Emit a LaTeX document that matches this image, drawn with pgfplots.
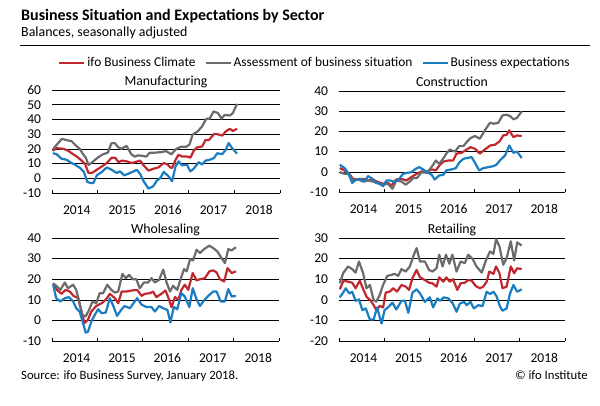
\documentclass[border=0pt]{standalone}
\usepackage{pgfplots}
\pgfplotsset{compat=1.18}
\usepackage{fontspec}
\setmainfont{Carlito}
\definecolor{ifored}{HTML}{C0282E}
\definecolor{ifogray}{HTML}{6B6B6B}
\definecolor{ifoblue}{HTML}{1A7CC1}

\pgfplotsset{
  panel/.style={
    scale only axis,
    xmin=0, xmax=60,
    axis x line*=bottom,
    axis y line*=left,
    y axis line style={draw=none},
    x axis line style={black, line width=0.8bp},
    ymajorgrids,
    major grid style={black, line width=0.6bp},
    xtick={6.5,18.5,30.5,42.5,54.5},
    xticklabels={2014,2015,2016,2017,2018},
    minor xtick={0,12,24,36,48,60},
    major tick length=0pt,
    minor tick length=3bp,
    tick align=inside,
    minor tick style={black, line width=0.8bp},
    ticklabel style={font=\fontsize{13.5bp}{14bp}\selectfont},
    xticklabel style={yshift=-9bp},
    yticklabel style={xshift=-7.5bp},
    /pgf/number format/assume math mode=true,
    title style={at={(0.5,1)}, anchor=base, yshift=-1bp, inner sep=0pt,
      font=\fontsize{13.8bp}{14bp}\selectfont},
    every axis plot/.append style={line width=2.2bp, mark=none, line join=round},
  },
  red/.style={ifored}, gray/.style={ifogray}, blue/.style={ifoblue},
}

\begin{document}
\begin{tikzpicture}[x=1bp,y=1bp]
\useasboundingbox (0,0) rectangle (600,405);
\node[anchor=base west, inner sep=0pt, font=\bfseries\fontsize{16bp}{17bp}\selectfont] at (21,385) {Business Situation and Expectations by Sector};
\node[anchor=base west, inner sep=0pt, font=\fontsize{13.9bp}{14bp}\selectfont] at (21,368.3) {Balances, seasonally adjusted};
\draw[line width=1.2bp] (20,359.3) -- (590,359.3);

% Manufacturing
\begin{axis}[panel, at={(52bp,212bp)}, anchor=south west, width=228bp, height=103bp,
  ymin=-10, ymax=60, ytick={-10,0,...,60}, title={Manufacturing},
  legend columns=3,
  legend style={at={(1.153,1.265)}, anchor=center, draw=none, fill=none,
    font=\fontsize{13.4bp}{14bp}\selectfont,
    /tikz/every even column/.append style={column sep=7bp}},
  legend image code/.code={\draw[#1] (0bp,0bp) -- (25bp,0bp);},
]
\addplot[red] coordinates {(0.2,18.7) (1.2,20.5) (3,20) (4.3,18.7) (5.2,17) (6.5,14.8) (7.8,12) (8.7,9.7) (9.6,3.6) (10.5,3.6) (11.8,5.8) (13.1,8) (14.4,10.3) (15.7,14) (16.6,14) (17.5,11) (18.4,12) (19.7,11.5) (21,10.3) (21.9,11) (23.2,12) (24.1,8.8) (25.4,5.2) (26.7,6.5) (28,7.4) (29.4,10.3) (30.3,9.7) (31.1,7.4) (31.6,7) (32.5,12.5) (33.3,16) (34.2,14.8) (35.5,14.8) (36.4,14) (37.3,18.7) (38.2,21) (39.5,21.6) (40.4,26) (41.3,26) (42.6,30) (43.5,30) (44.8,29) (45.7,31.8) (46.8,33.6) (47.6,32.2) (48.7,33.6)};
\addlegendentry{ifo Business Climate}
\addplot[gray] coordinates {(0.3,20) (2.6,26.8) (4.2,25.7) (5.1,25.3) (6.4,22) (7.3,20) (8.2,16.3) (8.9,14) (9.6,9) (10.5,10.7) (12,14) (13.4,16.3) (14.7,17.4) (15.6,23.7) (16.5,24) (17.4,21.2) (18.2,20) (19.6,22) (20.9,16.3) (21.8,14.7) (22.6,15.6) (24,15.2) (24.8,14.7) (25.7,17.4) (27,17.4) (28.8,17.8) (30,18.5) (31.4,16.3) (32.7,20) (34,21.5) (35.4,21.5) (36.2,23) (37,29.7) (38.4,32) (39.5,35.3) (40.6,40.5) (41.5,40.5) (42.5,45.4) (43.7,44.3) (44.6,40.5) (45.4,43) (46.8,42.7) (47.6,44.3) (48.7,50.6)};
\addlegendentry{Assessment of business situation}
\addplot[blue] coordinates {(0.2,17) (1.2,16.4) (2.5,13.3) (3.9,12.6) (4.7,11) (6,9.3) (7.4,7) (8.4,4.3) (9.3,-2.5) (10.2,-3.2) (10.9,-3.2) (11.8,2) (13.1,4.3) (14.4,7.4) (15.7,5.8) (17,3.6) (17.9,4.7) (19,2) (20.1,3.1) (21.5,4.7) (22.3,5.8) (23.2,3) (24.1,-2) (25.4,-7) (26.6,-5.5) (27.6,-1.6) (28.5,0.2) (29.4,4.3) (30.7,1.3) (31.6,-2) (32.5,7.9) (33.3,11.5) (34.2,8.8) (35.5,9.3) (36.4,4.7) (37.3,6.5) (38.6,11) (39.5,9.3) (40.4,12) (41.5,12.6) (42.6,13.7) (43.5,17) (44.8,16.4) (45.7,19.4) (46.5,23.9) (47.4,20.5) (48.7,16.7)};
\addlegendentry{Business expectations}
\end{axis}

% Construction
\begin{axis}[panel, at={(339bp,213bp)}, anchor=south west, width=226bp, height=101bp,
  ymin=-10, ymax=40, ytick={-10,0,...,40}, title={Construction}]
\addplot[red] coordinates {(0.2,1.8) (1.5,0.7) (2.7,-1) (3.7,-3.5) (5,-3.8) (6.4,-3.5) (7.7,-4.3) (9,-3.8) (10.4,-5.1) (11.7,-5.9) (13,-5.5) (13.9,-6.8) (15.2,-3.8) (16.6,-3.5) (17.9,-4.3) (19.2,-2.6) (20.6,-1) (21.9,0.2) (23.2,0) (24.6,1.2) (25.7,0.7) (26.8,3.5) (27.8,5.1) (29,5.6) (30.3,5.6) (31.2,9) (32.5,9.4) (33.9,11) (34.9,12.2) (36.1,11.4) (37.4,9) (38.7,11) (40.1,13) (41.4,13.4) (42.6,15) (43.6,18) (44.5,18.3) (45.2,20.5) (46.3,17.2) (47.3,18) (48.5,17.7)};
\addplot[gray] coordinates {(0.2,-0.2) (1.5,-1) (2.7,-1) (3.7,-4.3) (5,-3.8) (6.4,-4.8) (7.7,-4.3) (9,-4.8) (10.4,-5.5) (11.7,-6.3) (13,-6) (14.2,-8.4) (15.2,-4.3) (16.6,-4.8) (17.7,-6.4) (18.8,-4.8) (19.7,-3.1) (20.7,-3.1) (21.9,-0.2) (23.2,-0.5) (24.1,1.2) (25,3.5) (25.7,5.6) (26.6,4) (27.5,6.1) (28.5,9) (29.4,11) (30.8,10) (31.9,12.7) (33,12.7) (33.9,14.7) (34.9,16.7) (36.1,17.7) (37.4,16.4) (38.7,20.5) (40.1,24.3) (41.1,23.8) (42.3,24.3) (43.4,27.9) (44.5,28.3) (45.4,27.6) (46.3,26) (47.2,26.6) (48.5,29.9)};
\addplot[blue] coordinates {(0.2,3.5) (1.5,1.8) (2.4,-0.5) (3.5,-5.5) (4.6,-3.8) (5.7,-3.5) (6.8,-4.8) (7.7,-2.1) (8.9,-3.5) (9.8,-5.5) (10.8,-6) (11.7,-7.1) (12.6,-4.3) (13.7,-4.3) (14.8,-5.1) (16,-3.5) (17,-1) (18.1,-0.5) (19.2,-0.2) (20.4,1.5) (21.3,2.3) (22.3,1.2) (23.4,-0.2) (24.6,-1.5) (25.4,-3.8) (26.6,-1.8) (27.7,-1.5) (28.5,0.7) (29.9,1.2) (31,1.8) (31.9,4.5) (33,6.4) (33.9,6.8) (35.2,7.3) (36.1,4.5) (37.2,0.7) (38.3,1.8) (39.6,2.3) (41,2.8) (41.8,3.5) (42.7,5.6) (44.1,8.1) (45.2,13) (46.3,9.4) (47.3,10) (48.5,6.8)};
\end{axis}

% Wholesaling
\begin{axis}[panel, at={(52bp,64bp)}, anchor=south west, width=227bp, height=103bp,
  ymin=-10, ymax=40, ytick={-10,0,...,40}, title={Wholesaling}]
\addplot[red] coordinates {(0.3,18) (1.3,14.8) (2.5,12.9) (3.6,14.8) (4.7,14) (5.7,11.9) (6.9,10.8) (7.8,4.3) (8.6,-1.3) (9.5,0.3) (10.4,4.3) (11.7,7) (13.1,8.3) (14.2,10) (15.3,12.9) (16.6,10.8) (17.5,8.3) (18.4,14) (19.7,14) (21,14.5) (22.5,14.8) (23.7,11.9) (24.5,12.9) (25.9,13.2) (26.7,14) (27.6,11.3) (28.9,12.9) (30,14.5) (30.7,11.3) (31.6,6.4) (32.5,11.3) (33.4,10) (34.2,14.8) (35.1,17.3) (36,14.8) (37.2,23) (38.2,19.4) (39.1,20) (40.4,20.5) (41.6,23.8) (42.6,24.3) (43.5,23.3) (44.4,20) (45.5,18.9) (46.4,25.4) (47.5,23) (48.6,23.8)};
\addplot[gray] coordinates {(0.3,18) (1.3,16.5) (2.2,14.8) (3.4,18.4) (4.2,15.6) (5.6,17.3) (6.4,14.8) (7.3,8.3) (8,2.7) (8.9,1.9) (9.8,5.1) (10.7,9.2) (11.7,8.3) (12.6,13.2) (13.5,13.2) (14.6,17.3) (15.7,14.8) (16.6,13.5) (17.5,14) (18.6,22.6) (19.5,20.5) (20.4,22.1) (21.3,20) (22.3,20) (23.2,15.6) (24.3,18.4) (25.4,18.4) (26.3,20.5) (27.2,18.4) (28.3,19.7) (29.4,24.6) (30.3,18.4) (31.2,14) (32,16.8) (33.1,14.8) (33.8,18.9) (34.9,24.9) (35.6,23.8) (36.5,29.8) (37.3,29.1) (38.2,34.3) (39.1,32.7) (40.2,34.6) (41.6,36.3) (42.6,35.1) (43.7,33.5) (44.8,30.3) (45.7,27.8) (46.6,34.6) (47.5,34) (48.6,35.5)};
\addplot[blue] coordinates {(0.3,17.3) (1.1,10.8) (2.2,9.2) (3.4,10.8) (4.5,11.3) (5.6,9.2) (6.4,5.9) (7.3,4.3) (8.2,-1.3) (8.9,-5.9) (9.5,-5.5) (10.4,-0.5) (11.3,2.7) (12.2,5.4) (13.1,3.5) (14.2,3.8) (15.3,10.8) (16.2,7) (17.2,2.2) (18.4,5.4) (19.2,7) (20.6,5.9) (21.4,8) (22.5,10.8) (23.7,7.6) (25,6.5) (26.3,6.5) (27.2,4.3) (28.3,7) (29.4,5.9) (30.5,5.1) (31.3,-1) (32.2,6.5) (33.1,5.4) (34.2,13.2) (35.1,11.6) (36.3,6.5) (37.2,15.6) (38.2,10.3) (39.1,7) (40.2,9.7) (41.3,11.9) (42.6,14) (43.5,14) (44.6,9.2) (45.7,9.2) (46.6,15.2) (47.5,11.6) (48.6,11.9)};
\end{axis}

% Retailing
\begin{axis}[panel, at={(339bp,64bp)}, anchor=south west, width=226bp, height=103bp,
  ymin=-20, ymax=30, ytick={-20,-10,...,30}, title={Retailing}]
\addplot[red] coordinates {(0.2,5.1) (1.2,9.3) (2.4,8.8) (3.5,8.3) (4.4,5.6) (5.5,9.3) (6.6,4.4) (7.4,1.2) (8.3,-0.1) (9.2,-2.6) (9.9,-5) (10.8,-3) (11.7,-3.7) (12.4,3.5) (13.5,4) (14.4,5.6) (15.4,4) (16.6,7.2) (17.7,6.4) (18.6,4.8) (19.5,10.5) (20.6,14.5) (21.5,10.9) (22.8,9.6) (23.9,8.3) (24.8,8) (25.9,6.4) (26.6,10.9) (27.7,8.8) (28.5,10.9) (29.4,8.8) (30.3,10) (31.4,4.8) (32.3,8) (33.4,8.3) (34.3,9.6) (35.2,9.3) (36.3,6.7) (37.4,5.6) (38.3,6.4) (39.2,8.8) (39.9,13.7) (41,12.6) (41.7,16.2) (42.6,12.9) (43.4,5.6) (44.5,6.4) (45.6,16.2) (46.5,12.9) (47.3,15.3) (48.5,14.9)};
\addplot[gray] coordinates {(0.2,8) (1.1,12.9) (2.4,16.2) (3.5,14.9) (4.4,13.2) (5.3,18.6) (6.4,12.9) (7.3,5.6) (8.2,7.2) (9.2,-0.1) (9.9,-0.9) (10.8,2.3) (11.7,7.2) (12.8,11.6) (13.9,12.1) (14.8,12.6) (15.7,11.6) (16.6,14.9) (17.7,13.7) (18.8,16.2) (19.7,21) (20.6,25.1) (21.5,18.6) (22.8,18.6) (23.9,14.5) (24.8,13.7) (25.9,15.3) (26.6,21.9) (27.5,16.2) (28.4,21.9) (29.3,17.5) (30.1,21.9) (31.2,13.7) (32.3,18.6) (33.4,17.8) (34.3,21.9) (35.5,19.7) (36.5,16.2) (37.9,13.2) (39,19.1) (40.1,23.5) (41,22.3) (41.7,29.5) (42.6,25.9) (43.6,17) (44.5,20.2) (45.6,28.4) (46.5,19.1) (47.3,27.9) (48.5,26.3)};
\addplot[blue] coordinates {(0.2,1.2) (1.1,3.5) (1.8,5.6) (2.7,3.1) (3.5,3.9) (4.4,-0.5) (5.3,0.2) (6.2,-5) (7.1,-4.2) (8.2,-9.6) (9.2,-9.6) (10.1,-3.7) (11.3,-11.5) (12.1,-5) (13,-3.7) (14.2,-1.4) (15.2,-4.7) (16.6,-0.5) (17.5,-0.5) (18.4,-6.3) (19.5,3.5) (20.6,5.1) (21.5,3.1) (22.8,-1) (24.1,1.2) (25,-3.7) (26.1,0.7) (26.8,-0.5) (27.8,1.2) (29,0.7) (30.1,-1.4) (31.2,-5.8) (32.1,-1.8) (33.2,-1) (33.9,-2.6) (34.9,-1) (35.8,-4.2) (37,-2.6) (38.1,-3.1) (39.2,3.9) (40.1,2.8) (41,3.9) (41.8,1.8) (42.7,-3.1) (43.4,-5.3) (44.5,-4.2) (45.4,3.1) (46.3,7.2) (47.3,3.9) (48.5,5.1)};
\end{axis}

\node[anchor=base west, inner sep=0pt, font=\fontsize{12.7bp}{13bp}\selectfont] at (21,26) {Source: ifo Business Survey, January 2018.};
\node[anchor=base east, inner sep=0pt, font=\fontsize{12.7bp}{13bp}\selectfont] at (588,26) {© ifo Institute};
\end{tikzpicture}
\end{document}
